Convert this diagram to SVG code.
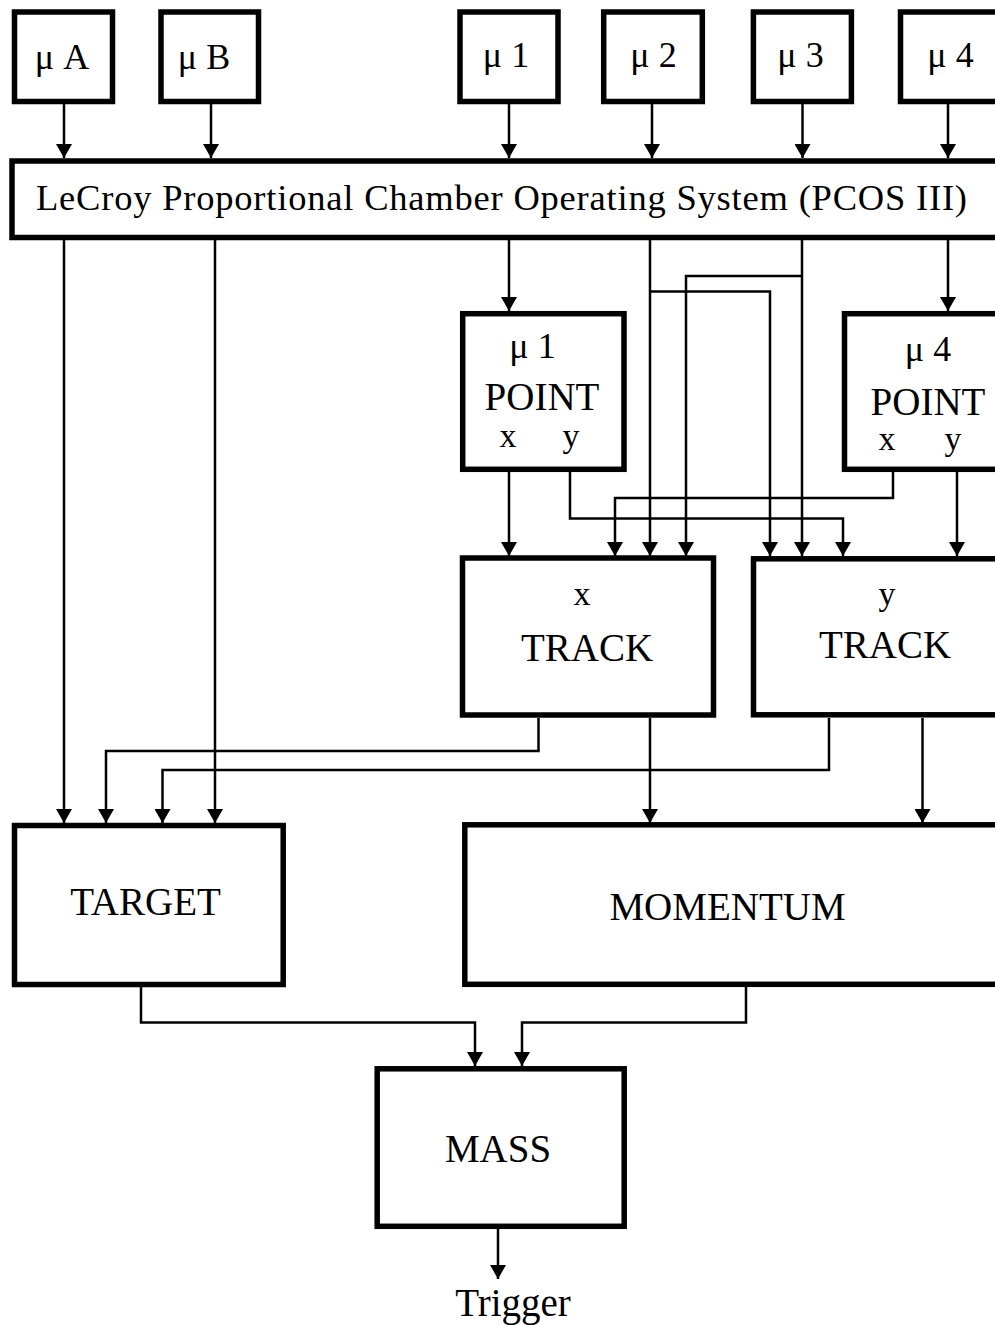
<svg xmlns="http://www.w3.org/2000/svg" width="995" height="1325" viewBox="0 0 995 1325">
<style>
.box{fill:#fff;stroke:#000;stroke-width:5.5}
.c{fill:none;stroke:#000;stroke-width:2.5;marker-end:url(#ah)}
text{font-family:"Liberation Serif","Times New Roman",serif;fill:#000}
.m{font-size:36px;text-anchor:middle}
.big{font-size:39px;text-anchor:middle}
.xy{font-size:34px;text-anchor:middle}
</style>
<defs>
<marker id="ah" viewBox="0 0 14 16" refX="14" refY="8" markerWidth="14" markerHeight="16" markerUnits="userSpaceOnUse" orient="auto">
<path d="M0,0 L14,8 L0,16 Z" fill="#000"/>
</marker>
</defs>
<rect width="995" height="1325" fill="#fff"/>
<g id="connectors">
<path class="c" d="M64,104 V158"/>
<path class="c" d="M211,104 V158"/>
<path class="c" d="M509,104 V158"/>
<path class="c" d="M652,104 V158"/>
<path class="c" d="M802.5,104 V158"/>
<path class="c" d="M948,104 V158"/>
<path class="c" d="M64,240 V823"/>
<path class="c" d="M215,240 V823"/>
<path class="c" d="M509,240 V311"/>
<path class="c" d="M650,240 V556"/>
<path class="c" d="M650,291.5 H770 V556"/>
<path class="c" d="M802,240 V556"/>
<path class="c" d="M802,276 H686 V556"/>
<path class="c" d="M948,240 V311"/>
<path class="c" d="M509,472 V556"/>
<path class="c" d="M570,472 V518.5 H843 V556"/>
<path class="c" d="M893,472 V498 H615 V556"/>
<path class="c" d="M957,472 V556"/>
<path class="c" d="M538.5,718 V751 H106 V823"/>
<path class="c" d="M650,718 V823"/>
<path class="c" d="M829,718 V770 H162.5 V823"/>
<path class="c" d="M922.5,718 V823"/>
<path class="c" d="M141,987 V1022.5 H475 V1066"/>
<path class="c" d="M746,987 V1022.5 H522 V1066"/>
<path class="c" d="M498,1229 V1279"/>
</g>
<g id="muA"><rect class="box" x="14.5" y="12" width="98" height="89.5"/><text class="m" x="62" y="69">μ A</text></g>
<g id="muB"><rect class="box" x="161" y="12" width="97.5" height="89.5"/><text class="m" x="204" y="69">μ B</text></g>
<g id="mu1"><rect class="box" x="460" y="12" width="98" height="89.5"/><text class="m" x="506" y="67">μ 1</text></g>
<g id="mu2"><rect class="box" x="603.7" y="12" width="98.6" height="89.5"/><text class="m" x="653.5" y="67">μ 2</text></g>
<g id="mu3"><rect class="box" x="753.4" y="12" width="98" height="89.5"/><text class="m" x="800.5" y="67">μ 3</text></g>
<g id="mu4"><rect class="box" x="900.5" y="12" width="98" height="89.5"/><text class="m" x="950.5" y="67">μ 4</text></g>
<g id="pcos"><rect class="box" x="12" y="161" width="1000" height="76.5"/><text x="36" y="210" font-size="36.5" textLength="931" lengthAdjust="spacing">LeCroy Proportional Chamber Operating System  (PCOS III)</text></g>
<g id="mu1point"><rect class="box" x="462.7" y="313.7" width="161.3" height="155.6"/>
<text class="m" x="532.5" y="358">μ 1</text>
<text class="big" x="542" y="410">POINT</text>
<text class="xy" x="508" y="447">x</text>
<text class="xy" x="571" y="447">y</text></g>
<g id="mu4point"><rect class="box" x="844.5" y="313.7" width="200" height="155.6"/>
<text class="m" x="928" y="361">μ 4</text>
<text class="big" x="928" y="415">POINT</text>
<text class="xy" x="887" y="450">x</text>
<text class="xy" x="953" y="450">y</text></g>
<g id="xtrack"><rect class="box" x="462.5" y="558" width="251" height="157"/>
<text class="xy" x="582" y="605">x</text>
<text class="big" x="587" y="661">TRACK</text></g>
<g id="ytrack"><rect class="box" x="753.5" y="558.8" width="300" height="156"/>
<text class="xy" x="887" y="605">y</text>
<text class="big" x="885" y="658">TRACK</text></g>
<g id="target"><rect class="box" x="14.5" y="825.5" width="268.7" height="159"/>
<text class="big" x="145.5" y="915" font-size="40">TARGET</text></g>
<g id="momentum"><rect class="box" x="464.8" y="824.8" width="600" height="159.5"/>
<text class="big" x="727.5" y="920">MOMENTUM</text></g>
<g id="mass"><rect class="box" x="377.2" y="1068.8" width="247" height="157.5"/>
<text class="big" x="498" y="1162">MASS</text></g>
<g id="trigger"><text class="big" x="513" y="1316">Trigger</text></g>
</svg>
